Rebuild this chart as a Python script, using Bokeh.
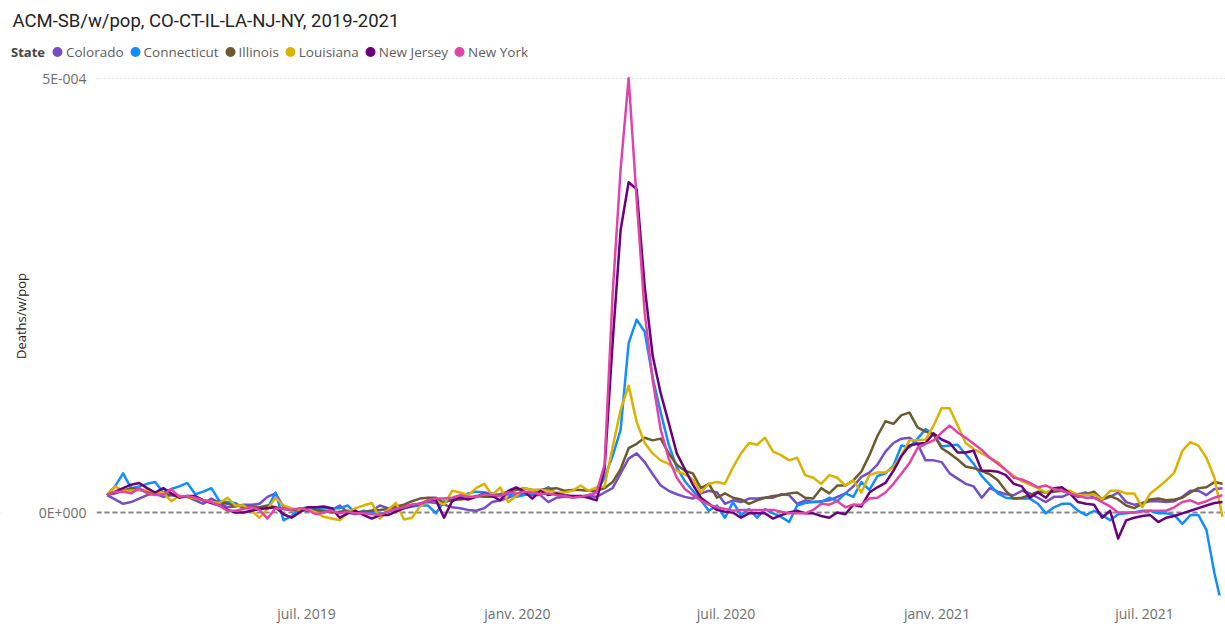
import numpy as np
import pandas as pd
from bokeh.plotting import figure
from bokeh.models import (Range1d, FixedTicker, CustomJSTickFormatter, Span, Legend,
                          LegendItem, ColumnDataSource, BoxAnnotation)
from bokeh.embed import file_html
from bokeh.resources import INLINE

# weekly series, values in units of 1e-6 deaths per week per population
weeks = pd.date_range("2019-01-08", periods=140, freq="7D")

colorado = [20, 15, 10, 12, 16, 20, 22, 18, 20, 19,
            18, 14, 10, 16, 11, 6, 7, 9, 9, 10,
            18, 22, 6, 3, 2, 4, 3, 1, 3, 8,
            0, -2, 1, 2, 8, 5, 5, 7, 9, 10,
            12, 11, 9, 6, 5, 3, 2, 5, 12, 14,
            17, 21, 21, 20, 20, 12, 17, 18, 18, 19,
            19, 18, 23, 28, 45, 62, 68, 58, 44, 31,
            25, 21, 18, 16, 22, 25, 23, 10, 14, 12,
            16, 16, 17, 17, 21, 20, 10, 14, 12, 13,
            14, 18, 22, 30, 41, 46, 55, 70, 80, 85,
            86, 79, 60, 60, 58, 45, 39, 33, 30, 17,
            28, 24, 21, 20, 25, 22, 17, 12, 18, 18,
            22, 21, 23, 17, 15, 18, 23, 12, 9, 11,
            13, 13, 12, 13, 18, 25, 25, 20, 27, 28]

connecticut = [20, 30, 45, 28, 30, 33, 35, 23, 27, 30,
               34, 21, 24, 28, 13, 12, 11, 5, 7, 6,
               5, 23, -9, -4, 4, 6, 5, 5, 5, 5,
               8, -1, 2, 0, -2, 1, 3, 5, 7, 8,
               8, -1, 13, 14, 18, 22, 24, 23, 22, 20,
               21, 18, 20, 22, 25, 29, 21, 19, 18, 18,
               20, 23, 40, 65, 95, 195, 222, 208, 155, 115,
               78, 52, 36, 25, 14, 2, 8, -6, 12, -3,
               4, -6, 4, -1, -5, -11, 8, 11, 12, 12,
               17, 13, 22, 18, 35, 26, 42, 45, 54, 77,
               75, 85, 96, 90, 76, 77, 78, 67, 56, 42,
               32, 22, 17, 16, 16, 16, 10, -1, 6, 10,
               10, 2, -3, 2, -3, -9, -2, -1, 0, 2,
               2, -1, -1, -3, -13, -3, -3, -20, -70, -110]

illinois = [20, 22, 25, 28, 26, 24, 22, 22, 20, 19,
            18, 16, 14, 12, 12, 10, 8, 7, 7, 6,
            8, 6, 4, 3, 3, 2, 3, 2, 0, 1,
            2, 0, 1, 2, 3, 4, 7, 9, 13, 16,
            17, 17, 11, 15, 15, 16, 19, 18, 18, 21,
            24, 26, 28, 26, 26, 27, 28, 25, 26, 26,
            25, 25, 28, 35, 50, 74, 79, 86, 83, 85,
            68, 55, 48, 45, 28, 33, 17, 22, 17, 15,
            10, 14, 17, 19, 20, 22, 23, 17, 16, 28,
            22, 31, 31, 37, 47, 66, 88, 105, 102, 112,
            115, 98, 93, 90, 74, 68, 61, 53, 51, 48,
            44, 37, 25, 16, 17, 20, 24, 23, 24, 25,
            22, 18, 21, 24, 15, 19, 15, 8, 5, 10,
            15, 16, 14, 15, 17, 23, 28, 29, 35, 33]

louisiana = [20, 30, 25, 25, 26, 26, 23, 23, 13, 19,
             18, 16, 14, 12, 11, 17, 8, 8, 2, -6,
             4, 17, 8, 5, 3, 4, 0, -5, -7, -9,
             0, 5, 8, 11, -7, 3, 11, -8, -6, 7,
             14, 13, 9, 25, 23, 20, 28, 33, 20, 29,
             12, 19, 28, 26, 26, 25, 23, 23, 25, 31,
             25, 29, 30, 75, 118, 146, 104, 80, 68, 60,
             56, 48, 44, 38, 23, 33, 35, 33, 52, 68,
             80, 78, 86, 70, 66, 60, 63, 43, 40, 33,
             43, 40, 31, 37, 23, 43, 46, 46, 52, 66,
             83, 83, 84, 100, 120, 120, 100, 80, 73, 68,
             63, 58, 49, 42, 36, 32, 28, 23, 27, 26,
             25, 20, 20, 21, 15, 25, 25, 22, 22, 6,
             22, 29, 37, 46, 71, 81, 77, 63, 40, -5]

new_jersey = [20, 24, 28, 32, 34, 28, 23, 28, 22, 17,
              19, 19, 14, 11, 8, 3, 0, 0, 2, 4,
              5, 6, -2, -6, 0, 6, 6, 7, 5, -6,
              -1, 2, -3, -7, -3, -3, 1, 5, 8, 10,
              14, 14, -6, 13, 17, 15, 18, 22, 19, 14,
              25, 29, 24, 16, 25, 20, 22, 20, 19, 19,
              17, 14, 50, 195, 325, 380, 372, 260, 180, 137,
              103, 68, 50, 32, 17, 10, 3, 1, 0, -6,
              -1, -1, -1, -7, -3, 0, 2, -1, -1, -4,
              -6, 0, -2, 9, 7, 23, 29, 34, 48, 65,
              77, 79, 80, 91, 84, 80, 69, 69, 71, 48,
              48, 47, 43, 33, 30, 17, 23, 17, 28, 29,
              22, 12, 10, 9, -6, 2, -30, -9, -6, -4,
              -3, -11, -6, -4, -1, 2, 5, 8, 11, 12]

new_york = [20, 24, 24, 22, 28, 22, 20, 20, 27, 18,
            19, 17, 14, 12, 8, 2, 2, 4, 6, 3,
            -7, 5, 4, 3, 5, 3, -2, 0, 2, -1,
            1, -1, -1, -2, -3, 1, 4, 6, 9, 10,
            14, 16, 16, 17, 20, 18, 18, 21, 20, 19,
            23, 22, 24, 23, 21, 22, 20, 19, 17, 18,
            20, 23, 55, 250, 395, 500, 360, 230, 152, 95,
            62, 40, 27, 20, 14, 9, 6, 4, 2, 3,
            3, 3, 3, 3, 1, -1, -1, -1, 3, 10,
            9, 13, 6, 9, 9, 16, 17, 23, 33, 45,
            57, 74, 79, 83, 92, 100, 92, 86, 79, 72,
            63, 56, 49, 40, 38, 34, 29, 31, 27, 25,
            22, 19, 17, 17, 12, 7, 0, 0, 0, 1,
            2, 2, 2, 6, 12, 14, 10, 13, 17, 20]

states = ["Colorado", "Connecticut", "Illinois", "Louisiana", "New Jersey", "New York"]
series = [colorado, connecticut, illinois, louisiana, new_jersey, new_york]
colors = ["#744EC2", "#118DFF", "#6B5B2E", "#D9B300", "#6B007B", "#E044A7"]
x_ticks = ["2019-07-01", "2020-01-01", "2020-07-01", "2021-01-01", "2021-07-01"]
y_ticks = [0.0, 5e-4]

data = {"week": weeks}
for s, vals in zip(states, series):
    data[s] = np.array(vals, dtype=float) * 1e-6
src = ColumnDataSource(data)

FONT = "Open Sans"

# ---- layout geometry (pixels from the picture's top-left corner) ----
FRAME_LEFT, FRAME_RIGHT = 0, 1225
FRAME_TOP, FRAME_BOTTOM = 36, 595
AXIS_X = 96                     # where the value axis sits
ZERO_Y, TOP_TICK_Y = 512, 77.5  # rows of 0 and 5E-004
REF_X, DAY_PX = 306, 1.1464     # column of 2019-07-01 and pixels per day

ref = pd.Timestamp("2019-07-01")
def date_at(px_x):
    return ref + pd.Timedelta(days=(px_x - REF_X) / DAY_PX)
def ms(t):
    return t.value / 1e6

vpp = 5e-4 / (ZERO_Y - TOP_TICK_Y)
y1 = (ZERO_Y - FRAME_TOP) * vpp
y0 = -(FRAME_BOTTOM - ZERO_Y) * vpp
FRAME_H = FRAME_BOTTOM - FRAME_TOP

p = figure(frame_width=FRAME_RIGHT - FRAME_LEFT, frame_height=FRAME_H,
           x_axis_type="datetime",
           x_range=Range1d(date_at(FRAME_LEFT), date_at(FRAME_RIGHT)),
           y_range=Range1d(y0, y1),
           output_backend="svg", toolbar_location=None,
           min_border_left=0, min_border_right=0, min_border_top=FRAME_TOP, min_border_bottom=0)
p.outline_line_color = None

p.title.text = "ACM-SB/w/pop, CO-CT-IL-LA-NJ-NY, 2019-2021"
p.title.text_font = "Roboto"
p.title.text_font_size = "18.5px"
p.title.text_font_style = "normal"
p.title.text_color = "#252423"
p.title.align = "left"
p.title.offset = 12
p.title.standoff = 10

# axes
p.xaxis.ticker = FixedTicker(ticks=[ms(pd.Timestamp(t)) for t in x_ticks])
p.xaxis.formatter = CustomJSTickFormatter(code="""
const m = ["janv.","févr.","mars","avr.","mai","juin","juil.","août","sept.","oct.","nov.","déc."];
const d = new Date(tick);
return m[d.getUTCMonth()] + " " + d.getUTCFullYear();
""")
p.yaxis.ticker = FixedTicker(ticks=y_ticks)
p.yaxis.formatter = CustomJSTickFormatter(code="""
if (Math.abs(tick) < 1e-12) return "0E+000";
const e = Math.floor(Math.log10(Math.abs(tick)) + 1e-9);
const m = Math.round(tick / Math.pow(10, e));
return m + "E" + (e < 0 ? "-" : "+") + String(Math.abs(e)).padStart(3, "0");
""")
p.yaxis.fixed_location = ms(date_at(AXIS_X))
for ax in (p.xaxis[0], p.yaxis[0]):
    ax.axis_line_color = None
    ax.major_tick_line_color = None
    ax.minor_tick_line_color = None
    ax.major_label_text_font = FONT
    ax.major_label_text_font_size = "14px"
    ax.major_label_text_color = "#6E6E6E"
p.xaxis.major_label_standoff = 2
p.yaxis.major_label_standoff = 4
p.yaxis.axis_label = "Deaths/w/pop"
p.yaxis.axis_label_text_font = FONT
p.yaxis.axis_label_text_font_size = "13px"
p.yaxis.axis_label_text_font_style = "normal"
p.yaxis.axis_label_text_color = "#252423"
p.yaxis.axis_label_standoff = 6

p.xgrid.grid_line_color = None
p.ygrid.grid_line_color = "#C8C8C8"
p.ygrid.grid_line_dash = "1 3"
p.ygrid.grid_line_width = 1

zero = Span(location=0, dimension="width", line_color="#888888", line_width=2,
            line_dash="5 3", level="underlay")
p.add_layout(zero)
# blank strip left of the value axis (keeps grid and zero line out of the label area)
p.add_layout(BoxAnnotation(left=ms(date_at(-20)), right=ms(date_at(AXIS_X)),
                           fill_color="white", fill_alpha=1, line_alpha=0, level="underlay"))

for s, c in zip(states, colors):
    p.line(x="week", y=s, source=src, line_color=c, line_width=2.5, line_join="round")

# legend markers: scatter renderers on the data with zero-size points
GLYPH_W, GLYPH_H = 14, 25
items = []
for s, c in zip(states, colors):
    dot = p.scatter(x="week", y=s, source=src, marker="circle", size=0,
                    fill_color=c, line_color=c, line_width=4.4)
    items.append(LegendItem(label=s, renderers=[dot]))
hidden = p.scatter(x="week", y=states[0], source=src, marker="circle",
                   size=0, fill_alpha=0, line_alpha=0)

vy = FRAME_H - 3 - GLYPH_H
state_leg = Legend(items=[LegendItem(label="State", renderers=[hidden])],
                   location=(11, vy), orientation="horizontal",
                   glyph_width=0, glyph_height=GLYPH_H, label_standoff=0,
                   label_text_font=FONT, label_text_font_size="13px",
                   label_text_font_style="bold", label_text_color="#444444",
                   padding=0, margin=0, border_line_alpha=0, background_fill_alpha=0)
legend = Legend(items=items, orientation="horizontal", location=(50, vy),
                label_text_font=FONT, label_text_font_size="13.5px", label_text_color="#605E5C",
                glyph_width=GLYPH_W, glyph_height=GLYPH_H, label_standoff=2, spacing=4,
                padding=0, margin=0, border_line_alpha=0, background_fill_alpha=0)
p.add_layout(state_leg, "center")
p.add_layout(legend, "center")

open("out.html", "w").write(file_html(p, INLINE))
